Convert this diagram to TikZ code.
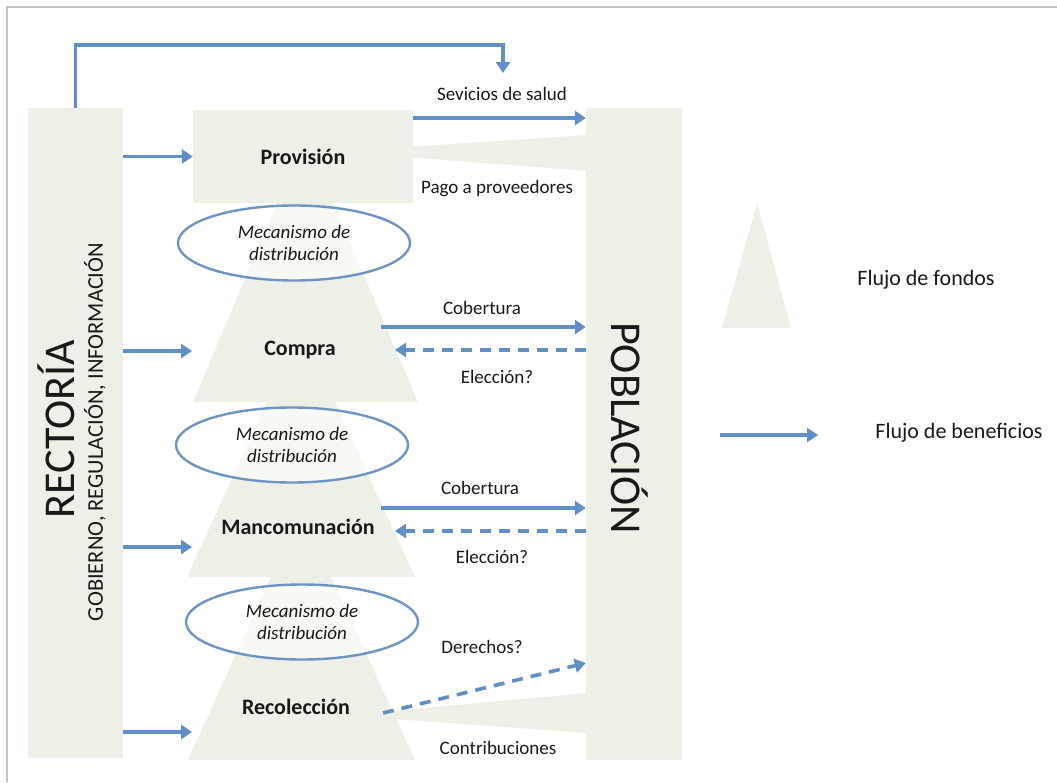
\documentclass[tikz,border=0pt]{standalone}
\usepackage{fontspec}
\setmainfont{Carlito}
\usetikzlibrary{arrows.meta,shapes.geometric}
\definecolor{sage}{RGB}{237,240,230}
\definecolor{flowblue}{RGB}{96,143,199}
\definecolor{ellblue}{RGB}{110,148,196}
\definecolor{txt}{RGB}{25,25,25}
\definecolor{framegray}{RGB}{195,195,195}
\begin{document}
\begin{tikzpicture}[x=1pt,y=-1pt,
  panel/.style={fill=sage, draw=none, inner sep=0pt, rectangle},
  arr/.style={draw=flowblue, line width=3.6pt, -{Triangle[length=11pt,width=14pt]}},
  darr/.style={arr, dash pattern=on 11pt off 8pt},
  lbl/.style={text=txt, font=\fontsize{19}{22}\selectfont},
  blbl/.style={text=txt, font=\fontsize{22}{26}\selectfont\bfseries},
  mech/.style={ellipse, draw=ellblue, line width=2.4pt, fill=white, fill opacity=0.6, text opacity=1, minimum width=232pt, minimum height=75pt, inner sep=0pt, align=center, text=txt, font=\fontsize{19}{22}\selectfont\itshape},
  big/.style={text=txt, font=\fontsize{44}{48}\selectfont},
  leg/.style={text=txt, font=\fontsize{22}{26}\selectfont}]
\useasboundingbox (0,0) rectangle (1057,782);
% frame
\draw[framegray, line width=2pt] (7,782) -- (7,7) -- (1057,7);
% funds flow shapes
\fill[sage] (277,203) -- (333,203) -- (418,402) -- (193,402) -- cycle;
\fill[sage] (267,402) -- (335,402) -- (415,577) -- (187,577) -- cycle;
\fill[sage] (271,577) -- (331,577) -- (415,760) -- (188,760) -- cycle;
\fill[sage] (405,147) -- (587,135) -- (587,171) -- (405,157) -- cycle;
\fill[sage] (380,712) -- (587,693) -- (587,733) -- (380,718) -- cycle;
% panels
\node[panel, minimum width=95pt, minimum height=650pt] (rect) at (75.5,433) {};
\node[panel, minimum width=96pt, minimum height=652pt] (pob) at (634,434) {};
\node[panel, minimum width=220pt, minimum height=93pt, blbl] (prov) at (303,156.5) {Provisión};
% mechanisms
\node[mech] (m1) at (294,243) {Mecanismo de\\distribución};
\node[mech] (m2) at (292,445) {Mecanismo de\\distribución};
\node[mech] (m3) at (302,622) {Mecanismo de\\distribución};
% function labels
\node[blbl] (compra) at (300,350) {Compra};
\node[blbl] (manc) at (298,527) {Mancomunación};
\node[blbl] (recol) at (296,707) {Recolección};
% titles
\node[big, rotate=90] (rtitle) at (56,429) {RECTORÍA};
\node[text=txt, font=\fontsize{22.5}{26}\selectfont, rotate=90] (rsub) at (95,432) {GOBIERNO, REGULACIÓN, INFORMACIÓN};
\node[big, rotate=-90] (ptitle) at (630,428) {POBLACIÓN};
% arrows from rectoria
\draw[arr] (rect.east |- prov.west) -- (prov.west);
\coordinate (inC) at (192,351);
\coordinate (inM) at (192,547);
\coordinate (inR) at (192,732);
\draw[arr] (rect.east |- inC) -- (inC);
\draw[arr] (rect.east |- inM) -- (inM);
\draw[arr] (rect.east |- inR) -- (inR);
% top loop
\coordinate (loopR) at (503,45);
\coordinate (loopEnd) at (503,73);
\draw[arr] (rect.north) |- (loopR) -- (loopEnd);
% right side arrows
\coordinate (sv) at (413,118);
\draw[arr] (sv) -- (pob.west |- sv);
\coordinate (cb1) at (381,327);
\draw[arr] (cb1) -- (pob.west |- cb1);
\coordinate (el1) at (395,350);
\draw[darr] (pob.west |- el1) -- (el1);
\coordinate (cb2) at (381,508);
\draw[arr] (cb2) -- (pob.west |- cb2);
\coordinate (el2) at (395,531);
\draw[darr] (pob.west |- el2) -- (el2);
\coordinate (dr) at (383,713);
\coordinate (drEnd) at (587,663);
\draw[darr] (dr) -- (pob.west |- drEnd);
% labels
\node[lbl] (t1) at (502,94) {Sevicios de salud};
\node[lbl] (t2) at (497,189) {Pago a proveedores};
\node[lbl] (t3) at (482,308) {Cobertura};
\node[lbl] (t4) at (497,377) {Elección?};
\node[lbl] (t5) at (480,488) {Cobertura};
\node[lbl] (t6) at (492,557) {Elección?};
\node[lbl] (t7) at (482,647) {Derechos?};
\node[lbl] (t8) at (498,748) {Contribuciones};
% legend
\fill[sage] (722,328) -- (757,203) -- (791,328) -- cycle;
\node[leg] (lf) at (926,280) {Flujo de fondos};
\coordinate (lgA) at (720,435);
\coordinate (lgB) at (818,435);
\draw[arr] (lgA) -- (lgB);
\node[leg] (lb) at (959,433) {Flujo de beneficios};
\end{tikzpicture}
\end{document}
